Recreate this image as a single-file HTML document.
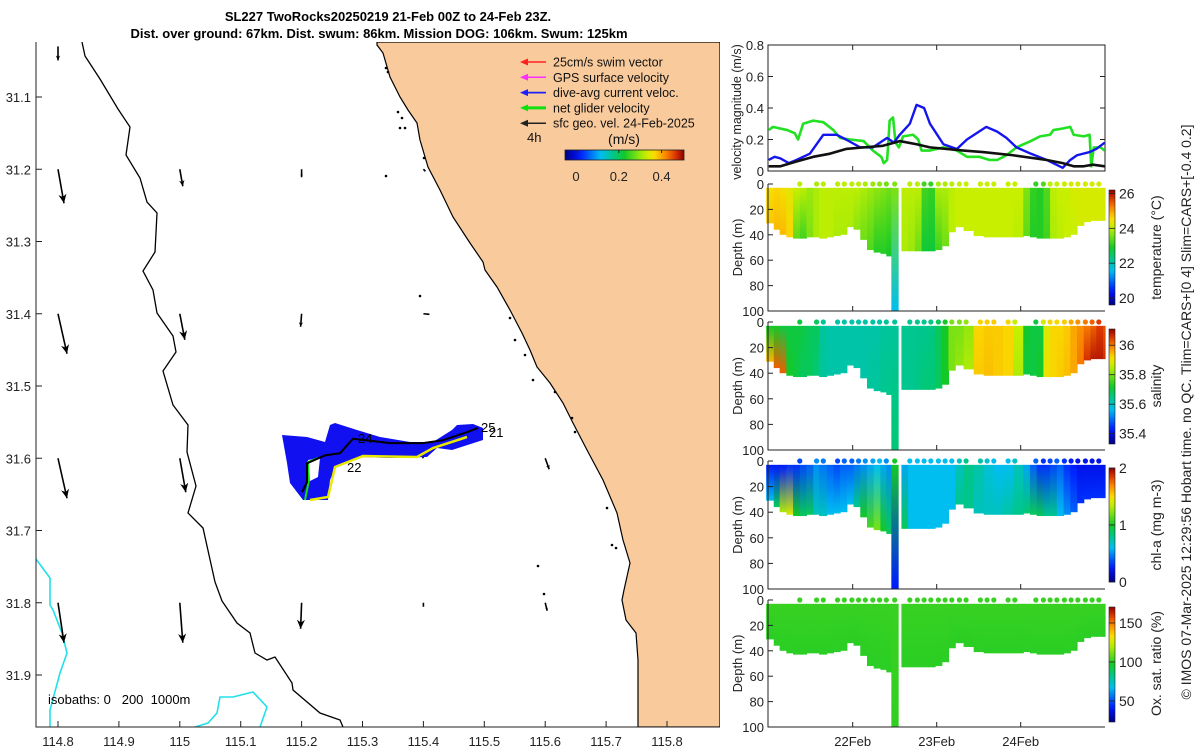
<!DOCTYPE html>
<html><head><meta charset="utf-8">
<style>
html,body{margin:0;padding:0;background:#fff;}
svg{display:block;font-family:"Liberation Sans","DejaVu Sans",sans-serif;}
.t{font-size:13px;fill:#222;}
.tk{stroke:#222;stroke-width:1;}
</style></head>
<body>
<svg id="fig" width="1200" height="750" viewBox="0 0 1200 750" xmlns="http://www.w3.org/2000/svg">
<defs id="defs"></defs>
<g font-weight="bold" font-size="13" text-anchor="middle" fill="#000">
<text x="388" y="21">SL227 TwoRocks20250219 21-Feb 00Z to 24-Feb 23Z.</text>
<text x="379" y="38">Dist. over ground: 67km. Dist. swum: 86km. Mission DOG: 106km. Swum: 125km</text>
</g>
<g id="map"></g>
<g id="vel"></g>
<g id="sections"></g>
<text transform="translate(1191,412) rotate(-90)" text-anchor="middle" font-size="14" fill="#222">© IMOS 07-Mar-2025 12:29:56 Hobart time. no QC. Tlim=CARS+[0 4] Slim=CARS+[-0.4 0.2]</text>
</svg>
<script>
// ---------- data ----------
const tGreen=[0.0,0.05,0.22,0.31,0.35,0.41,0.53,0.65,0.77,0.85,0.97,1.13,1.24,1.34,1.37,1.41,1.44,1.48,1.51,1.55,1.60,1.72,1.78,1.82,1.92,2.08,2.24,2.36,2.51,2.63,2.72,2.83,2.95,3.12,3.23,3.35,3.39,3.50,3.59,3.63,3.75,3.82,3.84,3.87,3.95,4.0];
const vGreen=[0.26,0.28,0.26,0.24,0.20,0.30,0.32,0.31,0.26,0.21,0.20,0.19,0.13,0.09,0.05,0.07,0.32,0.34,0.18,0.15,0.22,0.23,0.20,0.13,0.13,0.15,0.13,0.09,0.09,0.07,0.07,0.10,0.15,0.19,0.22,0.23,0.26,0.27,0.28,0.23,0.22,0.23,0.03,0.15,0.15,0.13];
const tBlue=[0.0,0.07,0.14,0.24,0.33,0.49,0.65,0.81,0.92,1.09,1.24,1.41,1.49,1.56,1.68,1.76,1.85,1.92,2.08,2.24,2.36,2.59,2.72,2.83,2.95,3.12,3.31,3.50,3.59,3.67,3.82,3.90,4.0];
const vBlue=[0.07,0.09,0.08,0.05,0.07,0.11,0.23,0.23,0.20,0.15,0.15,0.21,0.18,0.23,0.30,0.42,0.40,0.30,0.17,0.14,0.20,0.28,0.25,0.21,0.15,0.11,0.07,0.02,0.07,0.10,0.12,0.14,0.18];
const tBlack=[0.0,0.14,0.33,0.53,0.73,0.92,1.13,1.36,1.56,1.76,1.92,2.32,2.55,2.91,3.31,3.50,3.63,3.75,3.86,4.0];
const vBlack=[0.03,0.03,0.06,0.09,0.11,0.14,0.15,0.16,0.19,0.17,0.15,0.13,0.12,0.10,0.07,0.05,0.03,0.03,0.04,0.03];
const velTicks=[0,0.2,0.4,0.6,0.8];
const dayTicks=[1,2,3];
const dayLabels=["22Feb","23Feb","24Feb"];
const tCol=[-0.03,0.06,0.13,0.21,0.29,0.37,0.45,0.53,0.60,0.69,0.77,0.85,0.93,1.01,1.09,1.17,1.25,1.33,1.40,1.46,1.54,1.58,1.66,1.74,1.82,1.90,1.98,2.06,2.14,2.22,2.32,2.44,2.56,2.67,2.79,2.91,3.03,3.11,3.19,3.27,3.35,3.43,3.51,3.59,3.67,3.75,3.83,3.90,3.98];
const zBot=[31,36,40,42,43,43,42,42,43,42,41,40,34,36,44,52,54,55,57,100,null,53,53,53,53,53,52,49,38,34,37,41,42,42,42,42,41,42,43,43,43,43,42,40,33,30,29,29,29];
const tempSurf=[24.5,24.6,24.5,24.3,24.1,24.0,23.8,23.9,24.0,24.0,24.0,24.0,24.0,24.0,23.9,23.8,23.7,23.6,23.5,23.6,null,24.0,24.0,24.0,23.2,23.1,23.9,23.9,24.0,24.1,24.1,24.1,24.1,24.1,24.1,24.1,23.6,23.1,23.0,23.3,24.0,24.1,24.1,24.2,24.2,24.2,24.2,24.2,24.2];
const tempDeep=[24.7,24.8,24.8,24.6,23.4,23.2,23.6,23.9,24.0,24.0,23.9,23.9,23.9,23.7,23.5,23.3,23.0,23.0,22.9,21.6,null,23.9,23.8,23.5,22.8,22.8,23.2,23.5,24.0,24.1,24.1,24.1,24.1,24.1,24.1,24.0,23.4,23.0,23.0,23.2,23.9,24.0,24.1,24.1,24.2,24.2,24.2,24.2,24.2];
const salSurf=[35.72,35.72,35.70,35.70,35.70,35.70,35.68,35.68,35.63,35.62,35.62,35.62,35.62,35.62,35.62,35.62,35.62,35.63,35.63,35.63,null,35.64,35.64,35.64,35.64,35.65,35.68,35.72,35.80,35.80,35.82,35.92,35.93,35.93,35.92,35.86,35.72,35.70,35.70,35.88,35.92,35.92,35.93,35.96,35.98,36.00,36.02,36.05,36.03];
const salDeep=[35.95,36.02,36.02,35.72,35.70,35.68,35.68,35.66,35.63,35.62,35.62,35.62,35.62,35.62,35.62,35.63,35.63,35.64,35.64,35.66,null,35.64,35.64,35.65,35.66,35.66,35.68,35.72,35.80,35.82,35.84,35.93,35.94,35.93,35.92,35.84,35.70,35.70,35.72,35.90,35.92,35.93,35.94,35.96,36.00,36.06,36.08,36.08,36.06];
const chlSurf=[0.25,0.25,0.25,0.3,0.3,0.35,0.4,0.5,0.45,0.4,0.35,0.4,0.4,0.45,0.5,0.55,0.6,0.55,0.5,1.0,null,0.55,0.6,0.6,0.6,0.6,0.6,0.6,0.6,0.7,0.8,0.75,0.65,0.6,0.6,0.7,0.55,0.4,0.3,0.3,0.35,0.4,0.3,0.25,0.2,0.2,0.2,0.2,0.2];
const chlDeep=[0.6,0.9,1.3,1.4,1.0,0.9,0.9,0.7,0.7,0.6,0.6,0.6,0.6,0.8,1.0,1.1,1.2,1.0,0.9,0.25,null,0.9,0.6,0.6,0.6,0.6,0.6,0.6,0.6,0.8,0.8,0.7,0.7,0.7,0.75,0.8,0.85,0.9,0.9,0.8,0.8,0.6,0.5,0.4,0.3,0.3,0.3,0.3,0.3];
const oxSurf=[102,102,102,102,102,102,102,102,102,102,102,102,102,102,102,102,102,102,102,102,null,102,102,102,102,102,102,102,102,102,102,102,102,102,102,102,102,102,102,102,102,102,102,102,102,102,102,102,102];
const oxDeep=[100,100,100,100,100,100,100,100,100,100,100,100,100,100,100,100,100,100,100,101,null,100,100,100,100,100,100,100,100,100,100,100,100,100,100,100,100,100,100,100,100,100,100,100,100,100,100,100,100];
const tDots=[0.37,0.57,0.65,0.82,0.90,0.99,1.07,1.15,1.24,1.32,1.40,1.50,1.68,1.77,1.85,1.93,2.02,2.10,2.18,2.27,2.35,2.52,2.60,2.68,2.85,2.93,3.18,3.27,3.35,3.43,3.52,3.60,3.68,3.77,3.85,3.93];
const depthTicks=[0,20,40,60,80,100];
const tempTicks=[20,22,24,26], salTicks=[35.4,35.6,35.8,36], chlTicks=[0,1,2], oxTicks=[50,100,150];
const lonTicks=[114.8,114.9,115,115.1,115.2,115.3,115.4,115.5,115.6,115.7,115.8];
const lonLabels=["114.8","114.9","115","115.1","115.2","115.3","115.4","115.5","115.6","115.7","115.8"];
const latTicks=[31.1,31.2,31.3,31.4,31.5,31.6,31.7,31.8,31.9];
const trackLon=[115.2007,115.2089,115.2089,115.2384,115.2631,115.2844,115.3452,115.3993,115.4322,115.4716,115.4897];
const trackLat=[31.647,31.633,31.607,31.596,31.593,31.573,31.579,31.579,31.575,31.564,31.558];
const arrLon=[114.8,114.8,114.8,114.8,114.8,115.0,115.0,115.0,115.0,115.2,115.2,115.2,115.4,115.4,115.4,115.4,115.6,115.6];
const arrLat=[31.03,31.2,31.4,31.6,31.8,31.2,31.4,31.6,31.8,31.2,31.4,31.8,31.2,31.4,31.6,31.8,31.6,31.8];
const arrU=[0.0,0.03,0.045,0.045,0.03,0.015,0.025,0.03,0.015,0.0,-0.005,-0.005,0.01,0.03,-0.01,0.0,0.02,0.01];
const arrV=[-0.07,-0.17,-0.2,-0.2,-0.2,-0.085,-0.13,-0.17,-0.2,-0.04,-0.065,-0.13,-0.01,-0.003,0.02,-0.02,-0.055,-0.04];

// ---------- helpers ----------
const NS="http://www.w3.org/2000/svg";
function mk(tag,attrs,parent){const e=document.createElementNS(NS,tag);for(const k in attrs)e.setAttribute(k,attrs[k]);if(parent)parent.appendChild(e);return e;}
const CM=[[0,[0,0,130]],[0.12,[0,20,255]],[0.3,[0,190,240]],[0.42,[0,200,120]],[0.5,[20,200,40]],[0.6,[120,225,20]],[0.68,[200,240,0]],[0.75,[250,220,0]],[0.85,[250,130,0]],[0.93,[220,50,0]],[1,[140,0,0]]];
function cmap(f){f=Math.max(0,Math.min(1,f));for(let i=1;i<CM.length;i++){if(f<=CM[i][0]){const a=CM[i-1],b=CM[i];const u=(f-a[0])/(b[0]-a[0]);const c=a[1].map((v,j)=>Math.round(v+(b[1][j]-v)*u));return `rgb(${c[0]},${c[1]},${c[2]})`;}}return "rgb(140,0,0)";}
const defs=document.getElementById('defs');
let gid=0;
(function(){const g=mk('linearGradient',{id:'cbg',x1:0,y1:1,x2:0,y2:0},defs);for(let i=0;i<=20;i++)mk('stop',{offset:i/20,'stop-color':cmap(i/20)},g);const g2=mk('linearGradient',{id:'cbh',x1:0,y1:0,x2:1,y2:0},defs);for(let i=0;i<=20;i++)mk('stop',{offset:i/20,'stop-color':cmap(i/20)},g2);})();

// ---------- map ----------
const map=document.getElementById('map');
const MX=lon=>58+(lon-114.8)*609, MY=lat=>97+(lat-31.1)*722.5;
const ML=36,MR=720,MT=42,MB=727;
mk('clipPath',{id:'mapclip'},defs).appendChild(mk('rect',{x:ML,y:MT,width:MR-ML,height:MB-MT}));
const mg=mk('g',{'clip-path':'url(#mapclip)'},map);
const land=mk('path',{d:'M377,42 L377,45 383,53 390,77 400,97 408,110 417,123 420,140 428,167 440,190 453,217 470,243 483,262 485,270 497,287 510,310 522,333 530,350 537,367 550,383 563,403 573,423 587,450 603,480 617,513 623,540 630,563 624,590 622,600 626,620 636,633 638,660 638,727 720,727 720,42 Z',fill:'#f9cb9c',stroke:'#000','stroke-width':1.2},mg);


const iso=mk('path',{d:'M82,42 L85,56 100,79 118,109 130,127 126,155 140,178 147,202 157,213 155,252 143,271 153,290 157,313 173,336 176,352 163,371 173,405 188,425 187,452 196,486 188,513 203,528 215,582 222,601 237,623 250,633 255,653 267,660 275,657 292,683 293,690 320,713 340,720 343,727',fill:'none',stroke:'#000','stroke-width':1.3},mg);


const cy1=mk('path',{d:'M36,559 L50,578 50,605 53,610 62,633 67,653 60,673 50,710 50,727',fill:'none',stroke:'#22e0e8','stroke-width':1.6},mg);


const cy2=mk('path',{d:'M195,727 L208,723 217,713 220,697 233,697 253,692 267,707 260,727',fill:'none',stroke:'#22e0e8','stroke-width':1.6},mg);


[[386,68],[388,72],[398,112],[402,118],[400,128],[405,128],[424,158],[386,176],[420,296],[510,318],[515,340],[525,355],[533,380],[555,392],[572,418],[575,432],[607,508],[616,548],[612,545],[538,566],[544,594]].forEach(p=>{const d=mk('circle',{cx:p[0],cy:p[1],r:1.3,fill:'#000'},mg);});
const ASC=200;
for(let i=0;i<arrLon.length;i++){
  const x0=MX(arrLon[i]),y0=MY(arrLat[i]);const x1=x0+arrU[i]*ASC,y1=y0-arrV[i]*ASC;
  const L=Math.hypot(x1-x0,y1-y0);const g=mk('g',{},mg);
  
  
  mk('line',{x1:x0,y1:y0,x2:x1,y2:y1,stroke:'#000','stroke-width':1.6},g);
  if(L>5){const ux=(x1-x0)/L,uy=(y1-y0)/L,h=Math.min(9,L*0.35),w=h*0.45;
    mk('polygon',{points:`${x1},${y1} ${x1-ux*h-uy*w},${y1-uy*h+ux*w} ${x1-ux*h*0.7},${y1-uy*h*0.7} ${x1-ux*h+uy*w},${y1-uy*h-ux*w}`,fill:'#000'},g);}
}
const blob=mk('path',{d:'M282,435 L307,437 325,442 330,425 335,423 357,430 380,437 410,442 433,442 452,430 457,425 473,424 483,428 483,440 452,450 437,448 427,457 390,458 360,457 337,465 330,480 328,500 303,500 290,483 287,463 Z M308,460 L320,458 318,477 308,482 Z','fill-rule':'evenodd',fill:'#1010f0'},mg);


const yel=mk('polyline',{points:'310,500 328,497 335,467 363,456 417,457 433,448 467,437',fill:'none',stroke:'#e8e800','stroke-width':2.5},mg);


const gr=mk('polyline',{points:'305,500 309,480 308,462 318,458 M470,426 476,424',fill:'none',stroke:'#10e010','stroke-width':2},mg);


const trk=mk('polyline',{points:trackLon.map((l,i)=>MX(l)+','+MY(trackLat[i])).join(' '),fill:'none',stroke:'#000','stroke-width':2},mg);


[['24',358,443],['22',347,472],['25',481,432],['21',489,437]].forEach(a=>{const t=mk('text',{x:a[1],y:a[2],'font-size':13,fill:'#000'},mg);t.textContent=a[0];});
mk('path',{d:`M${ML},${MT} L${ML},${MB} L${MR},${MB}`,fill:'none',stroke:'#222','stroke-width':1},map);
lonTicks.forEach((l,i)=>{const x=MX(l);mk('line',{x1:x,y1:MB,x2:x,y2:MB-6,class:'tk'},map);const t=mk('text',{x:x,y:746,'text-anchor':'middle',class:'t'},map);t.textContent=lonLabels[i];});
latTicks.forEach(l=>{const y=MY(l);mk('line',{x1:ML,y1:y,x2:ML+6,y2:y,class:'tk'},map);const t=mk('text',{x:31,y:y+5,'text-anchor':'end',class:'t'},map);t.textContent=l.toFixed(1);});
const isoT=mk('text',{x:48,y:704,'font-size':13,fill:'#000'},map);isoT.textContent='isobaths: 0\u00a0\u00a0\u00a0200\u00a0\u00a01000m';


const leg=mk('g',{},map);


[['25cm/s swim vector','#ff2020',1.5],['GPS surface velocity','#ff30ff',1.5],['dive-avg current veloc.','#2020ff',1.8],['net glider velocity','#10e010',3],['sfc geo. vel. 24-Feb-2025','#222',1.5]].forEach((e,i)=>{
  const y=62+i*15.3;const g=mk('g',{},leg);
  
  
  mk('line',{x1:523,y1:y,x2:546,y2:y,stroke:e[1],'stroke-width':e[2]},g);
  mk('polygon',{points:`520,${y} 528,${y-3.5} 528,${y+3.5}`,fill:e[1]},g);
  const t=mk('text',{x:553,y:y+4.5,'font-size':12.5,fill:'#111'},g);t.textContent=e[0];});
const h4=mk('text',{x:527,y:142,'font-size':13,fill:'#111'},leg);h4.textContent='4h';
const ms=mk('text',{x:624,y:144,'font-size':14,fill:'#111','text-anchor':'middle'},leg);ms.textContent='(m/s)';
const mcb=mk('rect',{x:565,y:150,width:119,height:10,fill:'url(#cbh)',stroke:'#222','stroke-width':0.8},leg);


[[0,'0'],[0.2,'0.2'],[0.4,'0.4']].forEach(a=>{const x=576+a[0]*214;mk('line',{x1:x,y1:150,x2:x,y2:153,class:'tk'},leg);const t=mk('text',{x:x,y:181,'text-anchor':'middle','font-size':13,fill:'#222'},leg);t.textContent=a[1];});

// ---------- velocity panel ----------
const vel=document.getElementById('vel');
const VL=768,VR=1105,VT=45,VB=171;
const VX=t=>768.7+84*t, VY=v=>171-v*157.5;
mk('rect',{x:VL,y:VT,width:VR-VL,height:VB-VT,fill:'#fff',stroke:'#222','stroke-width':1},vel);
velTicks.forEach(v=>{const y=VY(v);mk('line',{x1:VL,y1:y,x2:VL+5,y2:y,class:'tk'},vel);mk('line',{x1:VR,y1:y,x2:VR-5,y2:y,class:'tk'},vel);const t=mk('text',{x:764,y:y+5,'text-anchor':'end',class:'t'},vel);t.textContent=v===0?'0':v.toFixed(1);});
dayTicks.forEach(d=>{const x=VX(d);mk('line',{x1:x,y1:VB,x2:x,y2:VB-5,class:'tk'},vel);mk('line',{x1:x,y1:VT,x2:x,y2:VT+5,class:'tk'},vel);});
mk('clipPath',{id:'velclip'},defs).appendChild(mk('rect',{x:VL,y:VT,width:VR-VL,height:VB-VT}));
const vg=mk('g',{'clip-path':'url(#velclip)'},vel);
const sGreen=mk('polyline',{points:tGreen.map((t,i)=>VX(t)+','+VY(vGreen[i])).join(' '),fill:'none',stroke:'#22e022','stroke-width':2.6,'stroke-linejoin':'round'},vg);


const sBlue=mk('polyline',{points:tBlue.map((t,i)=>VX(t)+','+VY(vBlue[i])).join(' '),fill:'none',stroke:'#1515ee','stroke-width':2.4,'stroke-linejoin':'round'},vg);


const sBlack=mk('polyline',{points:tBlack.map((t,i)=>VX(t)+','+VY(vBlack[i])).join(' '),fill:'none',stroke:'#111','stroke-width':2.6,'stroke-linejoin':'round'},vg);


const vyl=mk('text',{transform:'translate(741,112) rotate(-90)','text-anchor':'middle','font-size':12.5,fill:'#222'},vel);vyl.textContent='velocity magnitude (m/s)';



// ---------- sections ----------
const secs=document.getElementById('sections');
const panels=[
 {name:'temperature',top:184,bot:311,surf:tempSurf,deep:tempDeep,lo:19.6,hi:26.2,cbT:190,cbB:305,ticks:tempTicks,lab:'temperature (°C)',fmt:v=>String(v)},
 {name:'salinity',top:322,bot:450,surf:salSurf,deep:salDeep,lo:35.33,hi:36.11,cbT:329,cbB:444,ticks:salTicks,lab:'salinity',fmt:v=>v===36?'36':v.toFixed(1)},
 {name:'chlorophyll',top:461,bot:589,surf:chlSurf,deep:chlDeep,lo:0,hi:2,cbT:468,cbB:582,ticks:chlTicks,lab:'chl-a (mg m-3)',fmt:v=>String(v)},
 {name:'oxygen',top:600,bot:727,surf:oxSurf,deep:oxDeep,lo:23,hi:170.5,cbT:607,cbB:722,ticks:oxTicks,lab:'Ox. sat. ratio (%)',fmt:v=>String(v)}
];
panels.forEach((p,pi)=>{
  const g=mk('g',{},secs);
  
  
  const DY=d=>p.top+(p.bot-p.top)*d/100;
  const C=v=>cmap((v-p.lo)/(p.hi-p.lo));
  for(let i=0;i<tCol.length;i++){
    if(zBot[i]===null||p.surf[i]===null)continue;
    const x0=Math.max(766,VX(tCol[i])), x1=i<tCol.length-1?VX(tCol[i+1]):VR;
    const id='gc'+(gid++);
    const lg=mk('linearGradient',{id:id,x1:0,y1:0,x2:0,y2:1},defs);
    mk('stop',{offset:0,'stop-color':C(p.surf[i])},lg);
    mk('stop',{offset:1,'stop-color':C(p.deep[i])},lg);
    const r=mk('rect',{x:x0,y:DY(3),width:Math.max(0.5,x1-x0+0.6),height:DY(zBot[i])-DY(3),fill:'url(#'+id+')'},g);
    
    
  }
  tDots.forEach(t=>{let k=0;for(let i=0;i<tCol.length;i++){if(tCol[i]<=t&&p.surf[i]!==null)k=i;}
    const d=mk('circle',{cx:VX(t),cy:p.top,r:2.6,fill:C(p.surf[k])},g);
    
    });
  mk('path',{d:`M${VL},${p.top} L${VL},${p.bot} L${VR},${p.bot}`,fill:'none',stroke:'#222','stroke-width':1},g);
  depthTicks.forEach(d=>{const y=DY(d);mk('line',{x1:VL,y1:y,x2:VL+5,y2:y,class:'tk'},g);const t=mk('text',{x:764,y:y+5,'text-anchor':'end',class:'t'},g);t.textContent=d;});
  dayTicks.forEach((d,j)=>{const x=VX(d);mk('line',{x1:x,y1:p.bot,x2:x,y2:p.bot-5,class:'tk'},g);
    if(pi===3){const t=mk('text',{x:x,y:746,'text-anchor':'middle',class:'t'},g);t.textContent=dayLabels[j];}});
  const yl=mk('text',{transform:`translate(742,${(p.top+p.bot)/2}) rotate(-90)`,'text-anchor':'middle',class:'t'},g);yl.textContent='Depth (m)';
  
  
  const cb=mk('rect',{x:1109,y:p.cbT,width:6,height:p.cbB-p.cbT,fill:'url(#cbg)',stroke:'#222','stroke-width':0.6},g);
  
  
  p.ticks.forEach(v=>{const y=p.cbB-(v-p.lo)/(p.hi-p.lo)*(p.cbB-p.cbT);mk('line',{x1:1109,y1:y,x2:1115,y2:y,stroke:'#222','stroke-width':0.8},g);const t=mk('text',{x:1119,y:y+5,'font-size':14,fill:'#222'},g);t.textContent=p.fmt(v);});
  const cl=mk('text',{transform:`translate(1161,${(p.top+p.bot)/2}) rotate(-90)`,'text-anchor':'middle','font-size':14,fill:'#222'},g);cl.textContent=p.lab;
  
  
});
</script>
</body></html>
